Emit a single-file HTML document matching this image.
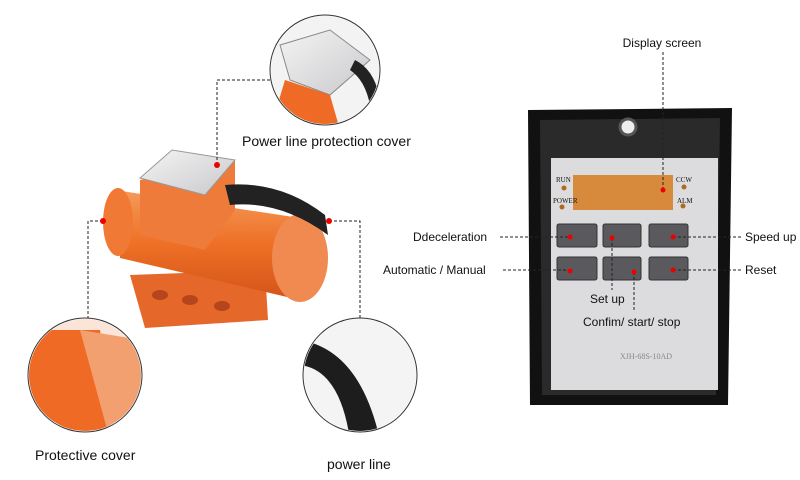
<!DOCTYPE html>
<html><head><style>body{margin:0;background:#fff}svg{display:block}text{font-family:"Liberation Sans",sans-serif;fill:#111}</style></head>
<body>
<svg width="800" height="480" viewBox="0 0 800 480">
<defs>
<linearGradient id="org" x1="0" y1="0" x2="0" y2="1"><stop offset="0" stop-color="#f59a5a"/><stop offset=".5" stop-color="#ee6f25"/><stop offset="1" stop-color="#d4541a"/></linearGradient>
<linearGradient id="sil" x1="0" y1="0" x2="1" y2="1"><stop offset="0" stop-color="#f4f4f4"/><stop offset="1" stop-color="#c9c9cc"/></linearGradient>
<clipPath id="c1"><circle cx="325" cy="70" r="54"/></clipPath>
<clipPath id="c2"><circle cx="85" cy="375" r="56"/></clipPath>
<clipPath id="c3"><circle cx="360" cy="375" r="56"/></clipPath>
</defs>
<!-- motor -->
<g>
<path d="M130 275 L265 270 L268 320 L145 328 Z" fill="#e5682a"/>
<ellipse cx="160" cy="295" rx="8" ry="5" fill="#b5451a"/><ellipse cx="190" cy="300" rx="8" ry="5" fill="#b5451a"/><ellipse cx="222" cy="306" rx="8" ry="5" fill="#b5451a"/>
<path d="M115 190 L300 218 L300 300 L120 258 Z" fill="url(#org)"/>
<ellipse cx="118" cy="222" rx="15" ry="34" fill="#f07a35"/>
<ellipse cx="300" cy="258" rx="28" ry="44" fill="#f08a50"/>
<path d="M140 180 L140 235 L205 250 L235 210 L235 160 Z" fill="#ee7b3a"/>
<path d="M140 178 L172 150 L235 160 L205 195 Z" fill="url(#sil)" stroke="#999"/>
<path d="M225 185 Q280 180 325 215 L328 235 Q280 200 230 205 Z" fill="#222"/>
</g>
<!-- circles -->
<circle cx="325" cy="70" r="55" fill="#fff" stroke="#333"/>
<g clip-path="url(#c1)"><rect x="270" y="15" width="110" height="110" fill="#f3f3f3"/><path d="M280 45 L330 30 L370 60 L330 95 L290 80 Z" fill="url(#sil)" stroke="#888"/><path d="M285 80 L330 95 L340 130 L270 130 Z" fill="#ee6a25"/><path d="M355 60 Q375 70 380 100 L370 105 Q365 80 350 70Z" fill="#222"/></g>
<circle cx="85" cy="375" r="57" fill="#fff" stroke="#333"/>
<g clip-path="url(#c2)"><rect x="28" y="318" width="114" height="114" fill="#fbe5d8"/><path d="M28 330 L100 330 L115 440 L28 440 Z" fill="#ee6a25"/><path d="M80 330 L142 340 L142 440 L110 440 Z" fill="#f3a070"/></g>
<circle cx="360" cy="375" r="57" fill="#fff" stroke="#333"/>
<g clip-path="url(#c3)"><rect x="303" y="318" width="114" height="114" fill="#f4f4f4"/><path d="M300 340 Q360 350 380 440 L350 440 Q340 370 300 365 Z" fill="#1d1d1d"/></g>
<!-- panel -->
<path d="M528 110 L732 108 L728 405 L530 405 Z" fill="#111"/>
<path d="M540 120 L720 118 L716 395 L542 395 Z" fill="#2a2a2a"/>
<circle cx="628" cy="127" r="8" fill="#eee" stroke="#555" stroke-width="3"/>
<rect x="551" y="158" width="167" height="232" fill="#dcdcde"/>
<rect x="573" y="175" width="100" height="35" fill="#d88a3c"/>
<g font-size="7"><text x="556" y="182" style="font-family:'Liberation Serif'">RUN</text><text x="553" y="203" style="font-family:'Liberation Serif'">POWER</text><text x="676" y="182" style="font-family:'Liberation Serif'">CCW</text><text x="677" y="203" style="font-family:'Liberation Serif'">ALM</text></g>
<g fill="#b06a20"><circle cx="564" cy="188" r="2.5"/><circle cx="562" cy="207" r="2.5"/><circle cx="684" cy="187" r="2.5"/><circle cx="683" cy="206" r="2.5"/></g>
<g fill="#5a5a5e" stroke="#333"><rect x="557" y="224" width="40" height="23" rx="2"/><rect x="603" y="224" width="38" height="23" rx="2"/><rect x="649" y="224" width="39" height="23" rx="2"/><rect x="557" y="257" width="40" height="23" rx="2"/><rect x="603" y="257" width="38" height="23" rx="2"/><rect x="649" y="257" width="39" height="23" rx="2"/></g>
<text x="620" y="359" font-size="8" style="font-family:'Liberation Serif';fill:#888">XJH-68S-10AD</text>
<!-- connectors -->
<g stroke="#222" stroke-dasharray="3,2" fill="none">
<path d="M217 165 V80 H270"/><path d="M103 221 H88 V318"/><path d="M329 221 H360 V318"/>
<path d="M663 52 V190"/><path d="M500 237 H570"/><path d="M673 237 H742"/><path d="M503 270 H570"/><path d="M673 270 H742"/>
<path d="M612 238 V290"/><path d="M634 272 V312"/>
</g>
<g fill="#e00"><circle cx="217" cy="165" r="3"/><circle cx="103" cy="221" r="3"/><circle cx="329" cy="221" r="3"/>
<circle cx="663" cy="190" r="2.5"/><circle cx="570" cy="237" r="2.5"/><circle cx="612" cy="238" r="2.5"/><circle cx="673" cy="237" r="2.5"/><circle cx="570" cy="271" r="2.5"/><circle cx="634" cy="272" r="2.5"/><circle cx="673" cy="270" r="2.5"/></g>
<text x="242" y="146" font-size="14">Power line protection cover</text>
<text x="35" y="460" font-size="14">Protective cover</text>
<text x="327" y="469" font-size="14">power line</text>
<text x="662" y="47" font-size="12" text-anchor="middle">Display screen</text>
<text x="413" y="241" font-size="12">Ddeceleration</text>
<text x="745" y="241" font-size="12">Speed up</text>
<text x="383" y="274" font-size="12">Automatic / Manual</text>
<text x="745" y="274" font-size="12">Reset</text>
<text x="590" y="303" font-size="12">Set up</text>
<text x="583" y="326" font-size="12">Confim/ start/ stop</text>
</svg>
</body></html>
